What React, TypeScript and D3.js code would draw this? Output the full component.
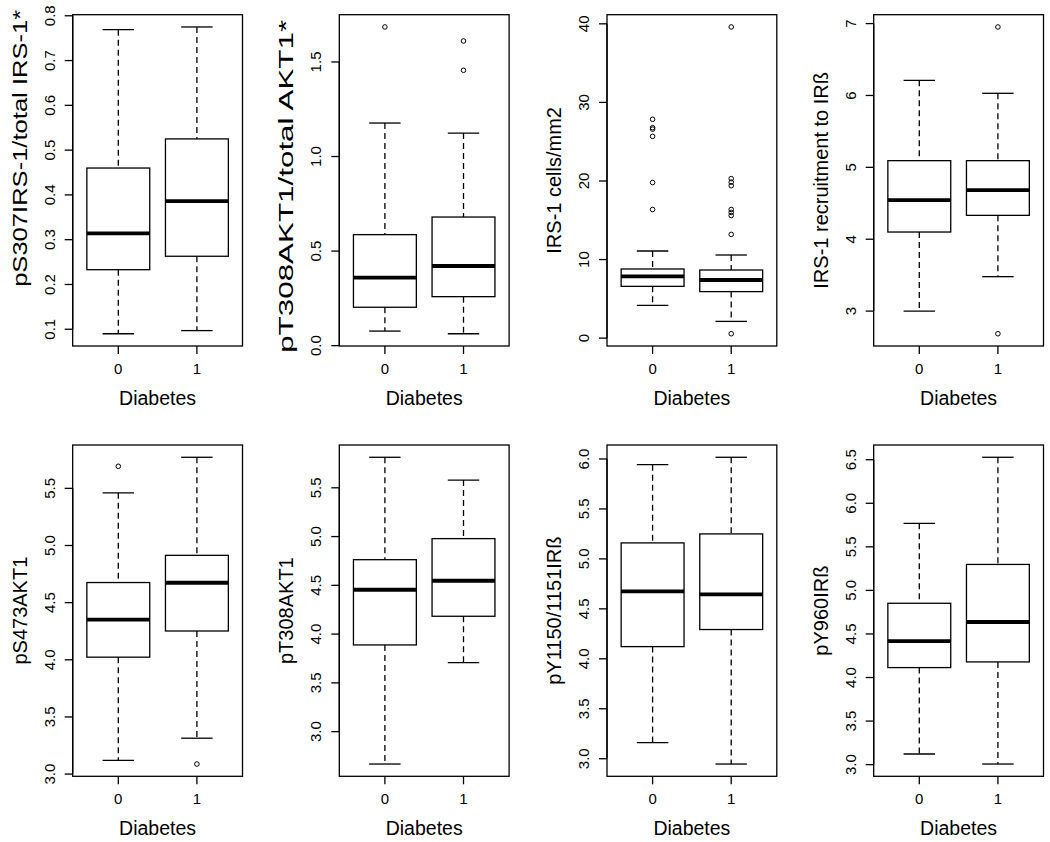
import React from "react";
import * as d3 from "d3";

// ---------- data (five-number summaries: lower whisker, Q1, median, Q3, upper whisker) ----------
const categories = ["0", "1"];
const xTitle = "Diabetes";

const p1Label = "pS307IRS-1/total IRS-1*";
const p1Stats = [[0.090, 0.233, 0.314, 0.460, 0.769], [0.097, 0.263, 0.386, 0.525, 0.775]];
const p1Outliers: number[][] = [[], []];
const p1Ticks = [0.1, 0.2, 0.3, 0.4, 0.5, 0.6, 0.7, 0.8];

const p2Label = "pT308AKT1/total AKT1*";
const p2Stats = [[0.077, 0.203, 0.360, 0.587, 1.177], [0.063, 0.259, 0.421, 0.680, 1.124]];
const p2Outliers = [[1.685], [1.611, 1.456]];
const p2Ticks = [0.0, 0.5, 1.0, 1.5];

const p3Label = "IRS-1 cells/mm2";
const p3Stats = [[4.17, 6.59, 7.87, 8.80, 11.09], [2.13, 5.92, 7.40, 8.67, 10.58]];
const p3Outliers = [[27.85, 26.78, 26.6, 25.68, 19.8, 16.37], [39.6, 20.3, 19.85, 19.4, 16.37, 16.0, 15.6, 13.2, 0.56]];
const p3Ticks = [0, 10, 20, 30, 40];

const p4Label = "IRS-1 recruitment to IRß";
const p4Stats = [[3.0, 4.10, 4.545, 5.093, 6.211], [3.479, 4.332, 4.684, 5.093, 6.03]];
const p4Outliers = [[], [6.953, 2.685]];
const p4Ticks = [3, 4, 5, 6, 7];

const p5Label = "pS473AKT1";
const p5Stats = [[3.120, 4.023, 4.351, 4.676, 5.461], [3.314, 4.252, 4.674, 4.914, 5.772]];
const p5Outliers = [[5.693], [3.088]];
const p5Ticks = [3.0, 3.5, 4.0, 4.5, 5.0, 5.5];

const p6Label = "pT308AKT1";
const p6Stats = [[2.668, 3.889, 4.455, 4.763, 5.813], [3.707, 4.183, 4.547, 4.979, 5.579]];
const p6Outliers: number[][] = [[], []];
const p6Ticks = [3.0, 3.5, 4.0, 4.5, 5.0, 5.5];

const p7Label = "pY1150/1151IRß";
const p7Stats = [[3.161, 4.122, 4.674, 5.160, 5.943], [2.947, 4.293, 4.644, 5.250, 6.017]];
const p7Outliers: number[][] = [[], []];
const p7Ticks = [3.0, 3.5, 4.0, 4.5, 5.0, 5.5, 6.0];

const p8Label = "pY960IRß";
const p8Stats = [[3.122, 4.114, 4.418, 4.852, 5.770], [3.007, 4.179, 4.637, 5.298, 6.528]];
const p8Outliers: number[][] = [[], []];
const p8Ticks = [3.0, 3.5, 4.0, 4.5, 5.0, 5.5, 6.0, 6.5];

// ---------- layout ----------
const W = 1050;
const H = 842;
const colLefts = [72.7, 339.3, 607, 873.7];
const rowTops = [14.7, 445];
const plotW = 169.8;
const plotH = 331.3;
const FONT = "'Liberation Sans', Arial, Helvetica, sans-serif";

type Panel = {
  label: string;
  stats: number[][];
  outliers: number[][];
  ticks: number[];
  fmt: (v: number) => string;
  labelLen?: number;
  labelShift?: number;
};

const f1 = d3.format(".1f");
const f0 = d3.format("d");

const panels: Panel[] = [
  { label: p1Label, stats: p1Stats, outliers: p1Outliers, ticks: p1Ticks, fmt: f1, labelLen: 277, labelShift: -32 },
  { label: p2Label, stats: p2Stats, outliers: p2Outliers, ticks: p2Ticks, fmt: f1, labelLen: 333, labelShift: 6 },
  { label: p3Label, stats: p3Stats, outliers: p3Outliers, ticks: p3Ticks, fmt: f0 },
  { label: p4Label, stats: p4Stats, outliers: p4Outliers, ticks: p4Ticks, fmt: f0 },
  { label: p5Label, stats: p5Stats, outliers: p5Outliers, ticks: p5Ticks, fmt: f1 },
  { label: p6Label, stats: p6Stats, outliers: p6Outliers, ticks: p6Ticks, fmt: f1 },
  { label: p7Label, stats: p7Stats, outliers: p7Outliers, ticks: p7Ticks, fmt: f1 },
  { label: p8Label, stats: p8Stats, outliers: p8Outliers, ticks: p8Ticks, fmt: f1 },
];

function BoxPanel({ p, left, top }: { p: Panel; left: number; top: number }) {
  const all = p.stats.flat().concat(p.outliers.flat());
  const lo = d3.min(all) as number;
  const hi = d3.max(all) as number;
  const pad = (hi - lo) * 0.04;
  const y = d3.scaleLinear().domain([lo - pad, hi + pad]).range([top + plotH, top]);
  const x = d3.scaleLinear().domain([0.42, 2.58]).range([left, left + plotW]);
  const bottom = top + plotH;
  const cy = top + plotH / 2 + (p.labelShift || 0);
  const lx = left - 46;
  return (
    <g>
      {p.stats.map((s, i) => {
        const cx = x(i + 1);
        const bx0 = x(i + 1 - 0.4);
        const bx1 = x(i + 1 + 0.4);
        const sx0 = x(i + 1 - 0.2);
        const sx1 = x(i + 1 + 0.2);
        return (
          <g key={i}>
            <line x1={cx} x2={cx} y1={y(s[4])} y2={y(s[3])} stroke="#000" strokeWidth={1.3} strokeDasharray="6,4" />
            <line x1={cx} x2={cx} y1={y(s[1])} y2={y(s[0])} stroke="#000" strokeWidth={1.3} strokeDasharray="6,4" />
            <line x1={sx0} x2={sx1} y1={y(s[4])} y2={y(s[4])} stroke="#000" strokeWidth={1.3} />
            <line x1={sx0} x2={sx1} y1={y(s[0])} y2={y(s[0])} stroke="#000" strokeWidth={1.3} />
            <rect x={bx0} y={y(s[3])} width={bx1 - bx0} height={y(s[1]) - y(s[3])} fill="#fff" stroke="#000" strokeWidth={1.3} />
            <line x1={bx0} x2={bx1} y1={y(s[2])} y2={y(s[2])} stroke="#000" strokeWidth={3.8} />
            {p.outliers[i].map((v, j) => (
              <circle key={j} cx={cx} cy={y(v)} r={2.3} fill="none" stroke="#000" strokeWidth={1} />
            ))}
          </g>
        );
      })}
      <rect x={left} y={top} width={plotW} height={plotH} fill="none" stroke="#000" strokeWidth={1.3} />
      {/* y axis */}
      <line x1={left} x2={left} y1={y(p.ticks[0])} y2={y(p.ticks[p.ticks.length - 1])} stroke="#000" strokeWidth={1.3} />
      {p.ticks.map((t, i) => (
        <g key={i}>
          <line x1={left - 8} x2={left} y1={y(t)} y2={y(t)} stroke="#000" strokeWidth={1.3} />
          <text
            transform={`translate(${left - 18},${y(t)}) rotate(-90)`}
            textAnchor="middle"
            fontSize={15}
            fontFamily={FONT}
            fill="#000"
          >
            {p.fmt(t)}
          </text>
        </g>
      ))}
      {/* x axis */}
      {categories.map((c, i) => (
        <g key={c}>
          <line x1={x(i + 1)} x2={x(i + 1)} y1={bottom} y2={bottom + 8} stroke="#000" strokeWidth={1.3} />
          <text x={x(i + 1)} y={bottom + 28} textAnchor="middle" fontSize={15} fontFamily={FONT} fill="#000">
            {c}
          </text>
        </g>
      ))}
      <text x={left + plotW / 2} y={bottom + 59} textAnchor="middle" fontSize={19.5} fontFamily={FONT} fill="#000">
        {xTitle}
      </text>
      <text
        transform={`translate(${lx},${cy}) rotate(-90)`}
        textAnchor="middle"
        fontSize={20}
        fontFamily={FONT}
        fill="#000"
        {...(p.labelLen ? { textLength: p.labelLen, lengthAdjust: "spacingAndGlyphs" } : {})}
      >
        {p.label}
      </text>
    </g>
  );
}

export default function App() {
  return (
    <svg width={W} height={H} viewBox={`0 0 ${W} ${H}`} style={{ display: "block", position: "absolute", left: 0, top: 0, background: "#fff" }}>
      <rect x={0} y={0} width={W} height={H} fill="#fff" />
      {panels.map((p, k) => (
        <BoxPanel key={k} p={p} left={colLefts[k % 4]} top={rowTops[Math.floor(k / 4)]} />
      ))}
    </svg>
  );
}
